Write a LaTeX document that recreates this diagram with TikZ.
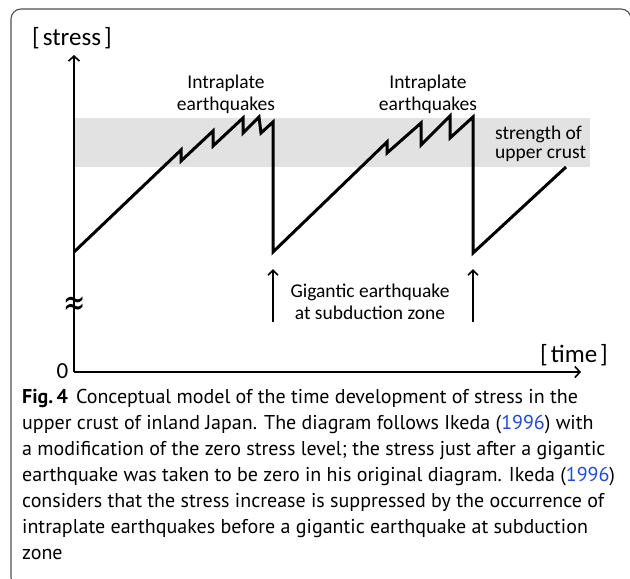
\documentclass[tikz,border=0pt]{standalone}
\usepackage{fontspec}
\setmainfont{Carlito}
\newfontfamily\capfont{PT Sans}
\newfontfamily\symfont{DejaVu Sans}
\usetikzlibrary{arrows.meta}
\definecolor{bandgray}{RGB}{226,226,226}
\definecolor{framegray}{RGB}{80,80,80}
\definecolor{linkblue}{RGB}{35,75,215}
\begin{document}
\begin{tikzpicture}[x=1pt,y=-1pt,
  lbl/.style={font=\fontsize{19.5}{22}\selectfont, inner sep=0pt, anchor=base},
  lbll/.style={font=\fontsize{19.5}{22}\selectfont, inner sep=0pt, anchor=base west},
  axlbl/.style={font=\fontsize{25}{28}\selectfont, inner sep=0pt, anchor=base west},
  capt/.style={font=\capfont\fontsize{20}{26}\selectfont, inner sep=0pt, anchor=base west},
  saw/.style={line width=3pt, line join=miter},
  axisline/.style={line width=2pt, -{Straight Barb[length=5pt,width=11pt,line width=1.6pt]}},
  garrow/.style={line width=2pt, -{Straight Barb[length=5pt,width=10pt,line width=1.6pt]}},
  cite/.style={text=linkblue}]
\useasboundingbox (0,0) rectangle (630,579);
\begin{scope}
  \clip (0,0) rectangle (630,579);
  \draw[framegray, line width=1.1pt, rounded corners=10pt] (11,9) rectangle (631,587);
\end{scope}
% strength band
\fill[bandgray] (74,118) rectangle (590,167);
% axes
\coordinate (origin) at (74,372);
\coordinate (ytip) at (74,55);
\coordinate (xtip) at (581,372);
\draw[axisline] (origin) -- (ytip);
\draw[axisline] (origin) -- (xtip);
% break mark
\node[inner sep=0pt, font=\symfont\fontsize{28}{28}\selectfont] (brk) at (75,306) {\scalebox{0.95}[1.35]{≈}};
% stress curve
\draw[saw] (74,252) -- (181,150) -- (181,161) -- (213,131) -- (213,146)
  -- (243,118) -- (243,133) -- (259,117) -- (261,133) -- (273,122)
  -- (273,252) -- (387,142) -- (387,153) -- (421,123) -- (421,145)
  -- (450,116) -- (450,138) -- (473,117) -- (473,253) -- (566,167);
% gigantic earthquake arrows
\coordinate (g1b) at (273,322);
\coordinate (g1t) at (273,269);
\coordinate (g2b) at (473,322);
\coordinate (g2t) at (473,269);
\draw[garrow] (g1b) -- (g1t);
\draw[garrow] (g2b) -- (g2t);
% labels
\node[axlbl] (stress) at (32,45) {[\hspace{3pt}stress\hspace{3pt}]};
\node[axlbl] (time) at (540,362) {[\hspace{3pt}time\hspace{3pt}]};
\node[inner sep=0pt, anchor=base, font=\fontsize{23}{23}\selectfont] (zero) at (62.5,378) {0};
\node[lbl] (iqa) at (226,88) {Intraplate};
\node[lbl] (iqb) at (226,110) {earthquakes};
\node[lbl] (iqc) at (428,88) {Intraplate};
\node[lbl] (iqd) at (428,110) {earthquakes};
\node[lbll] (sta) at (495,139) {strength of};
\node[lbll] (stb) at (495,158) {upper crust};
\node[lbl] (gqa) at (370,297) {Gigantic earthquake};
\node[lbl] (gqb) at (370,319) {at subduction zone};
% caption
\node[capt] (c1) at (22,403) {\textbf{Fig.\,4}\hspace{8pt}Conceptual model of the time development of stress in the};
\node[capt] (c2) at (22,429) {upper crust of inland Japan. The diagram follows Ikeda ({\color{linkblue}1996}) with};
\node[capt] (c3) at (22,455) {a modification of the zero stress level; the stress just after a gigantic};
\node[capt] (c4) at (22,481) {earthquake was taken to be zero in his original diagram. Ikeda ({\color{linkblue}1996})};
\node[capt] (c5) at (22,507) {considers that the stress increase is suppressed by the occurrence of};
\node[capt] (c6) at (22,533) {intraplate earthquakes before a gigantic earthquake at subduction};
\node[capt] (c7) at (22,559) {zone};
\end{tikzpicture}
\end{document}
